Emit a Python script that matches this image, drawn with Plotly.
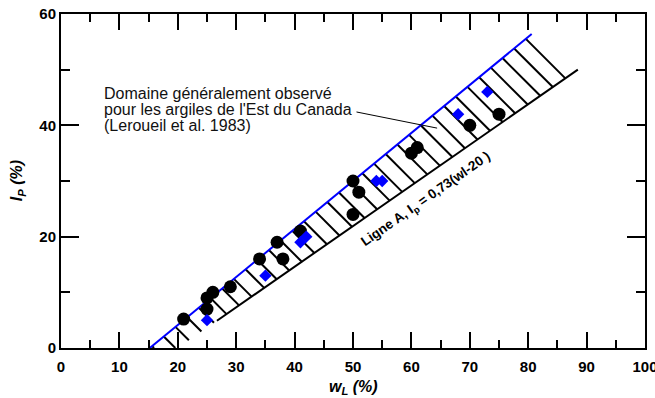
import plotly.graph_objects as go

# ---- data ----
circle_wl = [21, 25, 25, 26, 29, 34, 37, 38, 41, 50, 50, 51, 60, 61, 70, 75]
circle_ip = [5.2, 7, 9, 10, 11, 16, 19, 16, 21, 24, 30, 28, 35, 36, 40, 42]

diamond_wl = [25, 35, 41, 42, 54, 55, 68, 73]
diamond_ip = [5, 13, 19, 20, 30, 30, 42, 46]

# upper limit of domain (blue)
upper_wl = [15.2, 80.6]
upper_ip = [0, 56.4]

# Line A: Ip = 0.73 (wl - 20)
lineA_wl = [26.7, 88.5]
lineA_slope = 0.73
lineA_x0 = 20

x_ticks = [0, 10, 20, 30, 40, 50, 60, 70, 80, 90, 100]
y_ticks = [0, 20, 40, 60]

# ---- hatch between upper line and line A ----
up_slope = (upper_ip[1] - upper_ip[0]) / (upper_wl[1] - upper_wl[0])
hatch_dir = -1.05  # data-space slope of the hatch strokes
hx, hy = [], []
n_hatch = 33
for i in range(n_hatch):
    xs = 79.6 - 2.0 * i
    ys = up_slope * (xs - upper_wl[0])
    t = (ys - lineA_slope * (xs - lineA_x0)) / (lineA_slope - hatch_dir)
    xe = xs + t
    ye = ys + hatch_dir * t
    if ye < 0:
        t = ys / (-hatch_dir)
        xe = xs + t
        ye = 0
    hx += [xs, xe, None]
    hy += [ys, ye, None]

lineA_ip = [lineA_slope * (w - lineA_x0) for w in lineA_wl]

fig = go.Figure()
fig.add_trace(go.Scatter(x=hx, y=hy, mode="lines",
                         line=dict(color="black", width=2), hoverinfo="skip"))
fig.add_trace(go.Scatter(x=lineA_wl, y=lineA_ip, mode="lines",
                         line=dict(color="black", width=2)))
fig.add_trace(go.Scatter(x=upper_wl, y=upper_ip, mode="lines",
                         line=dict(color="#0000FF", width=2)))
fig.add_trace(go.Scatter(x=circle_wl, y=circle_ip, mode="markers",
                         marker=dict(symbol="circle", size=13, color="black")))
fig.add_trace(go.Scatter(x=diamond_wl, y=diamond_ip, mode="markers",
                         marker=dict(symbol="diamond", size=9.5, color="#0000FF")))

font_family = "Liberation Sans, Arial, sans-serif"

axis_common = dict(
    showline=True, linecolor="black", linewidth=2,
    mirror="ticks", ticks="inside", tickwidth=2, tickcolor="black",
    showgrid=False, zeroline=False, ticklabeloverflow="allow", automargin=False,
    tickfont=dict(family=font_family, size=15, color="black", weight="bold"),
)

fig.update_layout(
    width=655, height=398,
    margin=dict(l=61, r=10, t=14, b=50),
    paper_bgcolor="white", plot_bgcolor="white",
    showlegend=False,
    font=dict(family=font_family, color="black"),
    xaxis=dict(range=[0, 100], tickvals=x_ticks, ticklen=16, ticklabelstandoff=4,
               minor=dict(dtick=5, ticklen=8, tickwidth=2, ticks="inside", tickcolor="black"),
               **axis_common),
    yaxis=dict(range=[0, 60], tickvals=y_ticks, ticklen=18,
               minor=dict(dtick=10, ticklen=9, tickwidth=2, ticks="inside", tickcolor="black"),
               **axis_common),
)

# axis titles
fig.add_annotation(xref="paper", yref="paper", x=0.5, y=-0.118, yanchor="middle",
                   showarrow=False,
                   text="<b><i>w</i></b><sub><b><i>L</i></b></sub><b><i> (%)</i></b>",
                   font=dict(family=font_family, size=16, color="black"))
fig.add_annotation(xref="paper", yref="paper", x=-0.075, y=0.5, xanchor="center",
                   textangle=-90, showarrow=False,
                   text="<b><i>I</i></b><sub><b><i>P</i></b></sub><b><i> (%)</i></b>",
                   font=dict(family=font_family, size=16, color="black"))

# domain description
desc_lines = ["Domaine généralement observé",
              "pour les argiles de l'Est du Canada",
              "(Leroueil et al. 1983)"]
for k, line in enumerate(desc_lines):
    fig.add_annotation(x=7.0, y=45.8 - k * 2.95, xanchor="left", yanchor="middle",
                       showarrow=False, text=line,
                       font=dict(family=font_family, size=16, color="#111111"))
fig.add_shape(type="line", x0=50.6, y0=42.4, x1=64.4, y1=39.5,
              line=dict(color="black", width=1))

# line A label
fig.add_annotation(x=62.5, y=26.7, showarrow=False, textangle=-35,
                   text="<b>Ligne A, I<sub>p</sub> = 0,73(wl-20 )</b>",
                   font=dict(family=font_family, size=13.5, color="black"))

fig.write_html("out.html", config={"displayModeBar": False},
               post_script="document.body.style.margin='0';document.body.style.overflow='hidden';")
